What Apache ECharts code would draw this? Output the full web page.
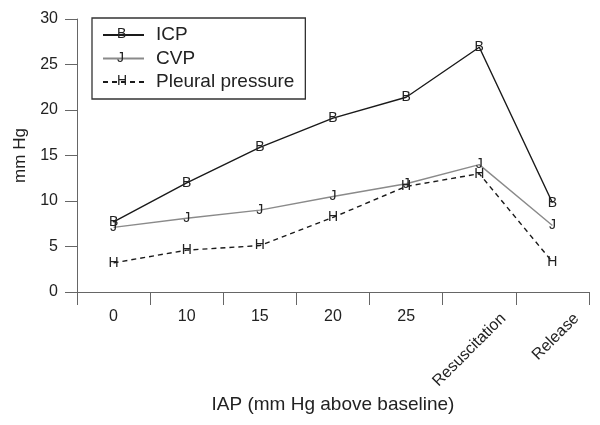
<!DOCTYPE html>
<html>
<head>
<meta charset="utf-8">
<script src="https://cdn.jsdelivr.net/npm/echarts@6/dist/echarts.min.js"></script>
<style>
html,body{margin:0;padding:0;background:#fff;}
#chart{width:600px;height:425px;}
</style>
</head>
<body>
<div id="chart"></div>
<script>
var categories = ['0', '10', '15', '20', '25', 'Resuscitation', 'Release'];
var icp = [7.7, 12.0, 15.9, 19.1, 21.4, 26.9, 9.8];
var cvp = [7.1, 8.1, 9.0, 10.5, 11.9, 14.0, 7.3];
var pleural = [3.2, 4.6, 5.1, 8.2, 11.6, 13.0, 3.3];
var seriesNames = ['ICP', 'CVP', 'Pleural pressure'];
var markerLetters = ['B', 'J', 'H'];
var yTicks = [0, 5, 10, 15, 20, 25, 30];

var FONT = 'Liberation Sans, Arial, sans-serif';
var chart = echarts.init(document.getElementById('chart'));

function lineSeries(name, data, letter, color, type) {
  return {
    name: name,
    type: 'line',
    data: data,
    xAxisIndex: 0,
    symbol: 'circle',
    symbolSize: 2,
    showSymbol: true,
    itemStyle: { color: 'rgba(0,0,0,0)' },
    lineStyle: { color: color, width: 1.4, type: type },
    label: {
      show: true,
      position: 'inside',
      formatter: letter,
      color: '#222',
      fontSize: 14,
      fontFamily: FONT
    },
    emphasis: { disabled: true },
    animation: false
  };
}

var option = {
  animation: false,
  backgroundColor: '#fff',
  grid: { left: 77, right: 11, top: 19, bottom: 133, containLabel: false },
  legend: {
    orient: 'vertical',
    left: 92,
    top: 18,
    data: seriesNames,
    padding: [7, 11, 7, 10],
    itemWidth: 41,
    itemHeight: 14,
    itemGap: 3.5,
    borderColor: '#333',
    borderWidth: 1.3,
    selectedMode: false,
    textStyle: { fontSize: 19, fontFamily: FONT, color: '#222', lineHeight: 20, padding: [0, 0, 0, 7] }
  },
  graphic: markerLetters.map(function (l, i) {
    return {
      type: 'text',
      left: 117,
      top: 27.5 + i * 23.5,
      z: 100,
      style: { text: l, fontSize: 14, fontFamily: FONT, fill: '#222' }
    };
  }),
  xAxis: [
    {
      type: 'category',
      data: categories,
      boundaryGap: true,
      name: 'IAP (mm Hg above baseline)',
      nameLocation: 'middle',
      nameGap: 103,
      nameTextStyle: { fontSize: 19, fontFamily: FONT, color: '#222' },
      axisLine: { lineStyle: { color: '#666', width: 1 } },
      axisTick: { show: true, length: 13, lineStyle: { color: '#666' } },
      axisLabel: {
        fontSize: 16, fontFamily: FONT, color: '#222', margin: 17, interval: 0,
        formatter: function (v, i) { return i < 5 ? v : ''; }
      },
      splitLine: { show: false }
    },
    {
      type: 'category',
      data: categories,
      boundaryGap: true,
      position: 'bottom',
      axisLine: { show: false },
      axisTick: { show: false },
      axisLabel: {
        fontSize: 16, fontFamily: FONT, color: '#222', margin: 0, interval: 0,
        rotate: 45, align: 'right', verticalAlign: 'top', padding: [26, 0, 0, 0],
        formatter: function (v, i) { return i >= 5 ? v : ''; }
      },
      splitLine: { show: false }
    }
  ],
  yAxis: {
    type: 'value',
    min: yTicks[0],
    max: yTicks[yTicks.length - 1],
    interval: 5,
    name: 'mm Hg',
    nameLocation: 'middle',
    nameGap: 48,
    nameTextStyle: { fontSize: 17, fontFamily: FONT, color: '#222' },
    axisLine: { show: true, lineStyle: { color: '#666', width: 1 } },
    axisTick: { show: true, length: 12, lineStyle: { color: '#666' } },
    axisLabel: { fontSize: 16, fontFamily: FONT, color: '#222', margin: 19 },
    splitLine: { show: false }
  },
  series: [
    lineSeries(seriesNames[0], icp, markerLetters[0], '#1a1a1a', 'solid'),
    lineSeries(seriesNames[1], cvp, markerLetters[1], '#8a8a8a', 'solid'),
    lineSeries(seriesNames[2], pleural, markerLetters[2], '#1a1a1a', [5, 4])
  ]
};
chart.setOption(option);
</script>
</body>
</html>
